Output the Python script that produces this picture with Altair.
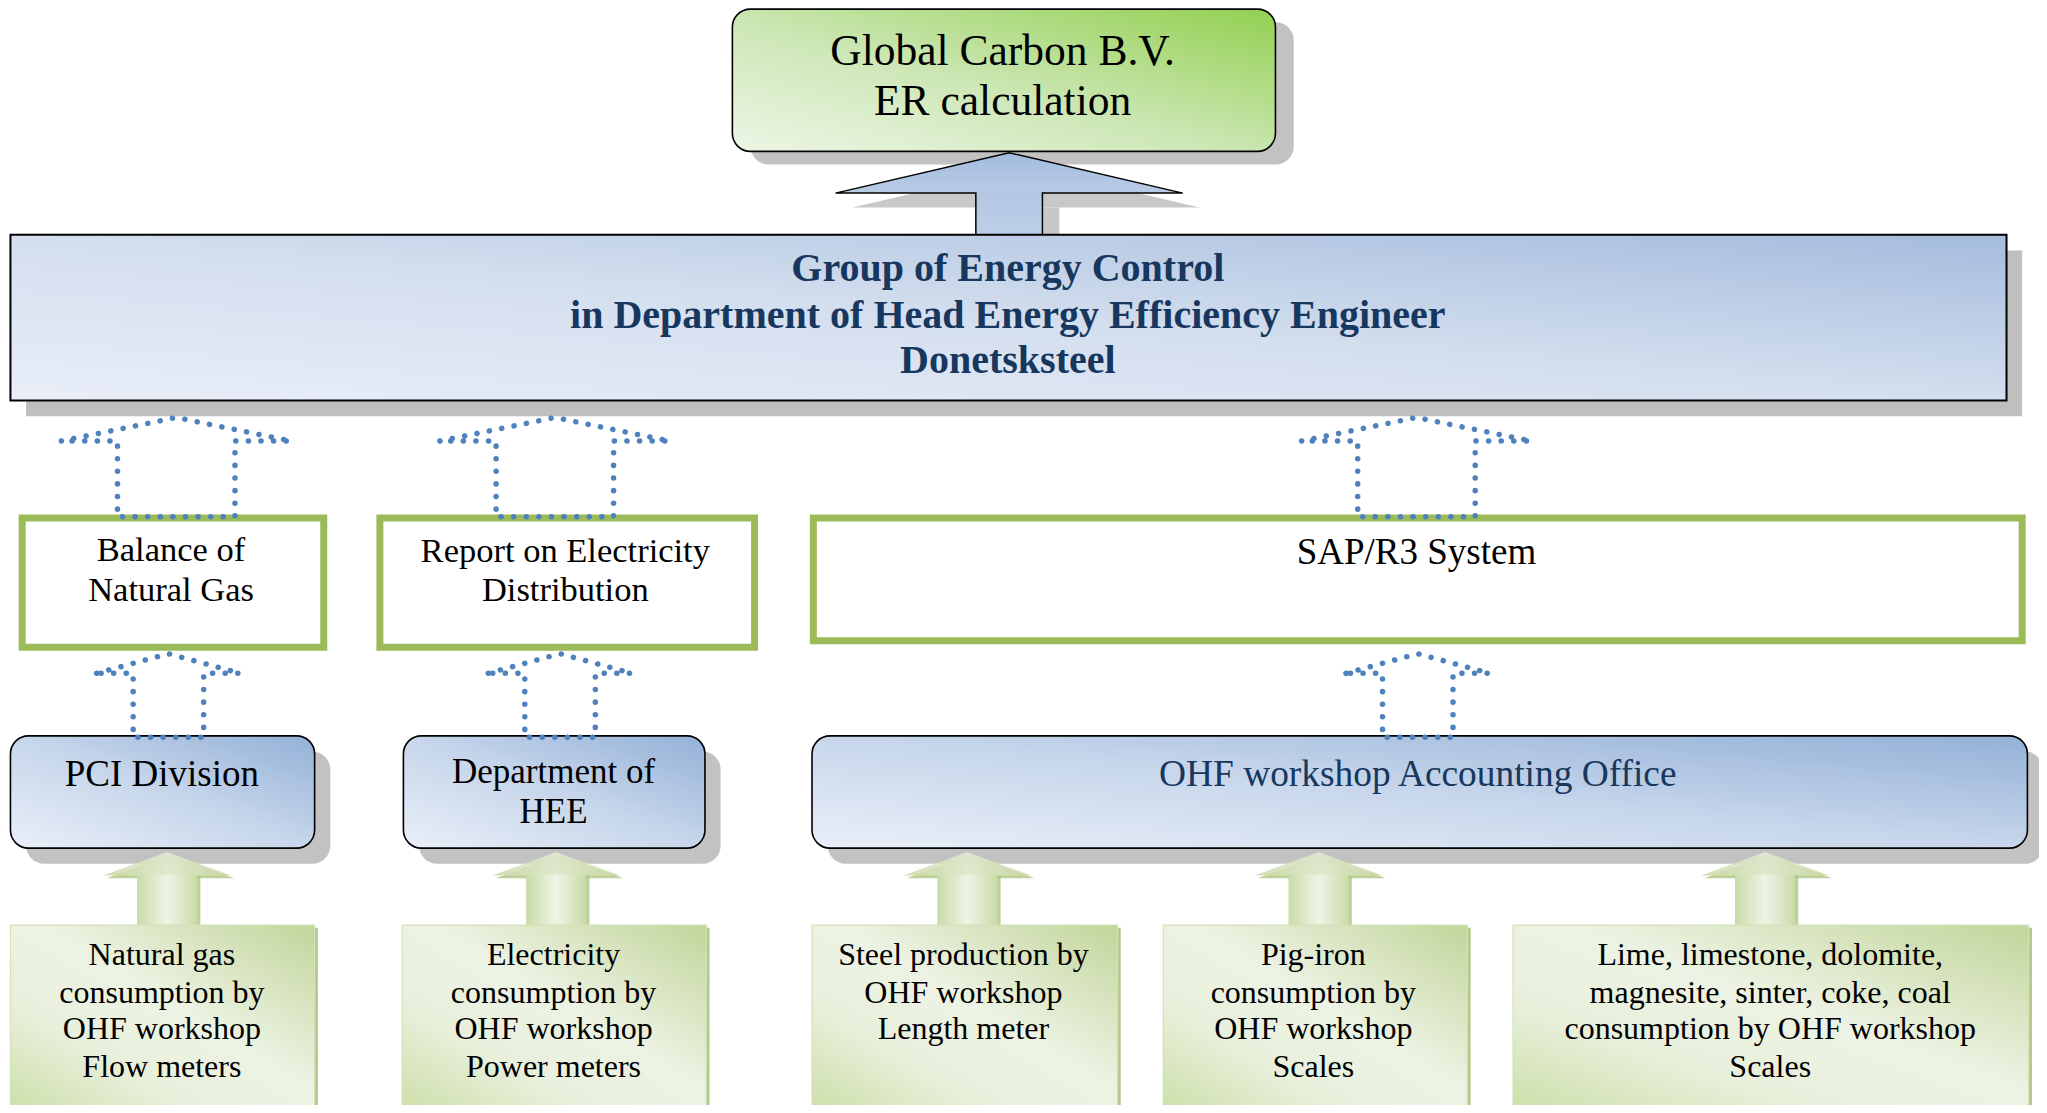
import altair as alt
import pandas as pd

# ------------------------------------------------------------------
# Diagram content (coordinates are read off the reference, in the
# 1568x853 preview pixel space; the scales map them to the page)
# ------------------------------------------------------------------
KX = 2047 / 1568
KY = 1113 / 853
W, H = 2031, 1097

# top rounded box
top_box = {"x0": [561], "x1": [977], "y0": [7], "y1": [116]}
top_text = ["Global Carbon B.V.", "ER calculation"]
top_text_x = [768, 768]
top_text_y = [40, 78]

# big blue rectangle
big_box = {"x0": [8], "x1": [1537], "y0": [180], "y1": [307]}
big_text = ["Group of Energy Control",
            "in Department of Head Energy Efficiency Engineer",
            "Donetsksteel"]
big_text_x = [772, 772, 772]
big_text_y = [206, 242, 277]

# big arrow (tip, wing base, wing half width, shaft half width, shaft bottom)
big_arrow = {"cx": [773], "tip": [117], "base": [148], "hh": [133], "sh": [25.5], "bottom": [180]}

# row 2: green-outlined boxes
row2_x0 = [17, 291, 623]
row2_x1 = [248, 578, 1549]
row2_y0 = [397, 397, 397]
row2_y1 = [496, 496, 491]
row2_text = ["Balance of", "Natural Gas", "Report on Electricity", "Distribution"]
row2_text_x = [131, 131, 433, 433]
row2_text_y = [422, 453, 423, 453]
row2_text_big = ["SAP/R3 System"]
row2_text_big_x = [1085]
row2_text_big_y = [424]

# row 3: rounded blue boxes
row3_x0 = [8, 309, 622]
row3_x1 = [241, 540, 1553]
row3_y0 = [564, 564, 564]
row3_y1 = [650, 650, 650]
row3_text_a = ["PCI Division"]
row3_text_a_x = [124]
row3_text_a_y = [594]
row3_text_b = ["Department of", "HEE"]
row3_text_b_x = [424, 424]
row3_text_b_y = [592, 622]
row3_text_navy = ["OHF workshop Accounting Office"]
row3_text_navy_x = [1086]
row3_text_navy_y = [594]

# bottom: green data-source boxes
bot_x0 = [8, 308, 622, 891, 1159]
bot_x1 = [241, 541, 856, 1124, 1554]
bot_y0 = [709] * 5
bot_y1 = [851] * 5
bot_lines = [
    ["Natural gas", "consumption by", "OHF workshop", "Flow meters"],
    ["Electricity", "consumption by", "OHF workshop", "Power meters"],
    ["Steel production by", "OHF workshop", "Length meter"],
    ["Pig-iron", "consumption by", "OHF workshop", "Scales"],
    ["Lime, limestone, dolomite,", "magnesite, sinter, coke, coal",
     "consumption by OHF workshop", "Scales"],
]
bot_text_x = [124, 424, 738, 1006, 1356]
bot_line_y = [732, 761, 789, 818]

# dotted arrows (row 2 -> big box) and (row 3 -> row 2)
dotA = {"cx": [135, 425, 1085], "tip": 320, "base": 338, "hh": 88, "sh": 45, "bottom": 396}
dotB = {"cx": [129, 429, 1086], "tip": 501, "base": 516, "hh": 55, "sh": 27, "bottom": 565}

# green block arrows (bottom boxes -> row 3)
green_arrows = {"cx": [128, 426, 741, 1010, 1352], "tip": 653, "base": 671, "hh": 49, "sh": 23, "bottom": 709}

SERIF = "Liberation Serif"
NAVY = "#17375e"

# ------------------------------------------------------------------
XS = alt.Scale(domain=[8 / KX, 2039 / KX], range=[0, W], nice=False, zero=False)
YS = alt.Scale(domain=[8 / KY, 1105 / KY], range=[0, H], nice=False, zero=False)


def grad(stops, x1=0, y1=1, x2=1, y2=0):
    return alt.Gradient(gradient="linear",
                        stops=[alt.GradientStop(offset=o, color=c) for o, c in stops],
                        x1=x1, y1=y1, x2=x2, y2=y2)


def rects(df, **mark):
    return alt.Chart(df).mark_rect(**mark).encode(
        x=alt.X("x0:Q", scale=XS, axis=None), x2="x1:Q",
        y=alt.Y("y0:Q", scale=YS, axis=None), y2="y1:Q")


def shifted(d, dx, dy):
    return pd.DataFrame({"x0": [v + dx for v in d["x0"]], "x1": [v + dx for v in d["x1"]],
                         "y0": [v + dy for v in d["y0"]], "y1": [v + dy for v in d["y1"]]})


def texts(words, xs, ys, size, color="black", weight="normal"):
    df = pd.DataFrame({"t": words, "x": xs, "y": ys})
    return alt.Chart(df).mark_text(font=SERIF, fontSize=size, color=color, fontWeight=weight,
                                   align="center", baseline="middle").encode(
        x=alt.X("x:Q", scale=XS, axis=None), y=alt.Y("y:Q", scale=YS, axis=None), text="t:N")


def arrow_outline(cxs, tip, base, hh, sh, bottom, dx=0, dy=0):
    rows = []
    for k, cx in enumerate(cxs):
        pts = [(cx - hh, base), (cx, tip), (cx + hh, base), (cx + sh, base), (cx + sh, bottom),
               (cx - sh, bottom), (cx - sh, base), (cx - hh, base)]
        for i, (px, py) in enumerate(pts):
            rows.append({"id": k, "i": i, "x": px + dx, "y": py + dy})
    return pd.DataFrame(rows)


def arrow_head(cxs, tip, base, hh, dx=0, dy=0):
    rows = []
    for k, cx in enumerate(cxs):
        for i, (px, py) in enumerate([(cx - hh, base), (cx, tip), (cx + hh, base)]):
            rows.append({"id": k, "i": i, "x": px + dx, "y": py + dy, "y2": base + dy})
    return pd.DataFrame(rows)


def arrow_shaft(cxs, base, sh, bottom, dx=0, dy=0):
    return pd.DataFrame({"x0": [c - sh + dx for c in cxs], "x1": [c + sh + dx for c in cxs],
                         "y0": [base + dy] * len(cxs), "y1": [bottom + dy] * len(cxs)})


def head_layer(df, **mark):
    return alt.Chart(df).mark_area(**mark).encode(
        x=alt.X("x:Q", scale=XS, axis=None), y=alt.Y("y:Q", scale=YS, axis=None), y2="y2:Q",
        detail="id:N")


def outline_layer(df, **mark):
    return alt.Chart(df).mark_line(**mark).encode(
        x=alt.X("x:Q", scale=XS, axis=None), y=alt.Y("y:Q", scale=YS, axis=None),
        order="i:Q", detail="id:N")


layers = []

# ---- shadows ----
SHADOW = "#c2c2c2"
layers.append(rects(shifted(top_box, 14, 10), color=SHADOW, cornerRadius=18))
layers.append(rects(shifted(big_box, 12, 12), color="#bfbfbf"))
row3 = {"x0": row3_x0, "x1": row3_x1, "y0": row3_y0, "y1": row3_y1}
layers.append(rects(shifted(row3, 12, 12), color=SHADOW, cornerRadius=18))

# big arrow shadow + body
ba = big_arrow
layers.append(head_layer(arrow_head(ba["cx"], ba["tip"][0], ba["base"][0], ba["hh"][0], 13, 11),
                         color="#c8c8c8"))
layers.append(rects(arrow_shaft(ba["cx"], ba["base"][0], ba["sh"][0], ba["bottom"][0], 13, 11),
                    color="#c8c8c8"))
layers.append(head_layer(arrow_head(ba["cx"], ba["tip"][0], ba["base"][0], ba["hh"][0]),
                         fill=grad([(0, "#a2bbdd"), (1, "#b9cce6")], 0, 0, 0, 1)))
layers.append(rects(arrow_shaft(ba["cx"], ba["base"][0] - 0.5, ba["sh"][0], ba["bottom"][0]),
                    fill=grad([(0, "#b3c7e3"), (1, "#bccfe8")], 0, 0, 0, 1)))
layers.append(outline_layer(arrow_outline(ba["cx"], ba["tip"][0], ba["base"][0], ba["hh"][0],
                                          ba["sh"][0], ba["bottom"][0]),
                            color="black", strokeWidth=1.5, strokeJoin="miter"))

# top box
layers.append(rects(pd.DataFrame(top_box), cornerRadius=18, stroke="black", strokeWidth=1.6,
                    fill=grad([(0, "#edf6e6"), (0.45, "#cde7b6"), (1, "#92d050")])))

# big blue rectangle
layers.append(rects(pd.DataFrame(big_box), stroke="black", strokeWidth=2,
                    fill=grad([(0, "#e9eef8"), (0.5, "#d3deee"), (1, "#a5bcdd")], 0, 1, 1, 0)))

# row 2 green-outlined boxes
layers.append(rects(pd.DataFrame({"x0": row2_x0, "x1": row2_x1, "y0": row2_y0, "y1": row2_y1}),
                    fill="white", stroke="#9bbb59", strokeWidth=7))

# row 3 rounded blue boxes
layers.append(rects(pd.DataFrame(row3), cornerRadius=18, stroke="black", strokeWidth=1.6,
                    fill=grad([(0, "#e9eff8"), (0.5, "#c7d6eb"), (1, "#93b1d7")])))

# green arrows: darker shadow copy, then light body
ga = green_arrows
layers.append(head_layer(arrow_head(ga["cx"], ga["tip"], ga["base"], ga["hh"], 2.5, 2),
                         color="#a9c27a", opacity=0.75))
layers.append(rects(arrow_shaft(ga["cx"], ga["base"], ga["sh"], ga["bottom"], 2.5, 0),
                    color="#a9c27a", opacity=0.75))
layers.append(head_layer(arrow_head(ga["cx"], ga["tip"], ga["base"], ga["hh"]),
                         fill=grad([(0, "#c6d9a4"), (0.5, "#e4edd4"), (1, "#c6d9a4")], 0, 0, 1, 0),
                         opacity=0.85))
layers.append(rects(arrow_shaft(ga["cx"], ga["base"] - 0.5, ga["sh"], ga["bottom"]),
                    fill=grad([(0, "#c9dba8"), (0.5, "#eef4e6"), (1, "#c9dba8")], 0, 0, 1, 0)))

# bottom boxes with thin darker shadow
bot = {"x0": bot_x0, "x1": bot_x1, "y0": bot_y0, "y1": bot_y1}
layers.append(rects(shifted(bot, 2.5, 2), color="#b4c98c"))
layers.append(rects(pd.DataFrame(bot), stroke="#d4e1b9", strokeWidth=1.2,
                    fill=grad([(0, "#cddfa9"), (0.3, "#e8f0dc"), (0.55, "#edf3e4"), (1, "#c2d59a")],
                              0, 1, 1, 0)))

# dotted hollow arrows
dot_style = dict(color="#4f81bd", strokeWidth=5.5, strokeDash=[0.1, 12.5], strokeCap="round",
                 strokeJoin="round")
layers.append(outline_layer(arrow_outline(dotA["cx"], dotA["tip"], dotA["base"], dotA["hh"],
                                          dotA["sh"], dotA["bottom"]), **dot_style))
layers.append(outline_layer(arrow_outline(dotB["cx"], dotB["tip"], dotB["base"], dotB["hh"],
                                          dotB["sh"], dotB["bottom"]), **dot_style))

# ---- texts ----
layers.append(texts(top_text, top_text_x, top_text_y, 43.5))
layers.append(texts(big_text, big_text_x, big_text_y, 40, color=NAVY, weight="bold"))
layers.append(texts(row2_text, row2_text_x, row2_text_y, 34.5))
layers.append(texts(row2_text_big, row2_text_big_x, row2_text_big_y, 37))
layers.append(texts(row3_text_a, row3_text_a_x, row3_text_a_y, 37))
layers.append(texts(row3_text_b, row3_text_b_x, row3_text_b_y, 35))
layers.append(texts(row3_text_navy, row3_text_navy_x, row3_text_navy_y, 37.4, color=NAVY))
bw, bxs, bys = [], [], []
for lines, cx in zip(bot_lines, bot_text_x):
    for j, line in enumerate(lines):
        bw.append(line)
        bxs.append(cx)
        bys.append(bot_line_y[j])
layers.append(texts(bw, bxs, bys, 32))

chart = alt.layer(*layers).properties(
    width=W, height=H, padding=0, autosize=alt.AutoSizeParams(type="none"),
    background="white"
).configure_view(stroke=None)

chart.save("out.html", embed_options={"renderer": "svg", "actions": False})
